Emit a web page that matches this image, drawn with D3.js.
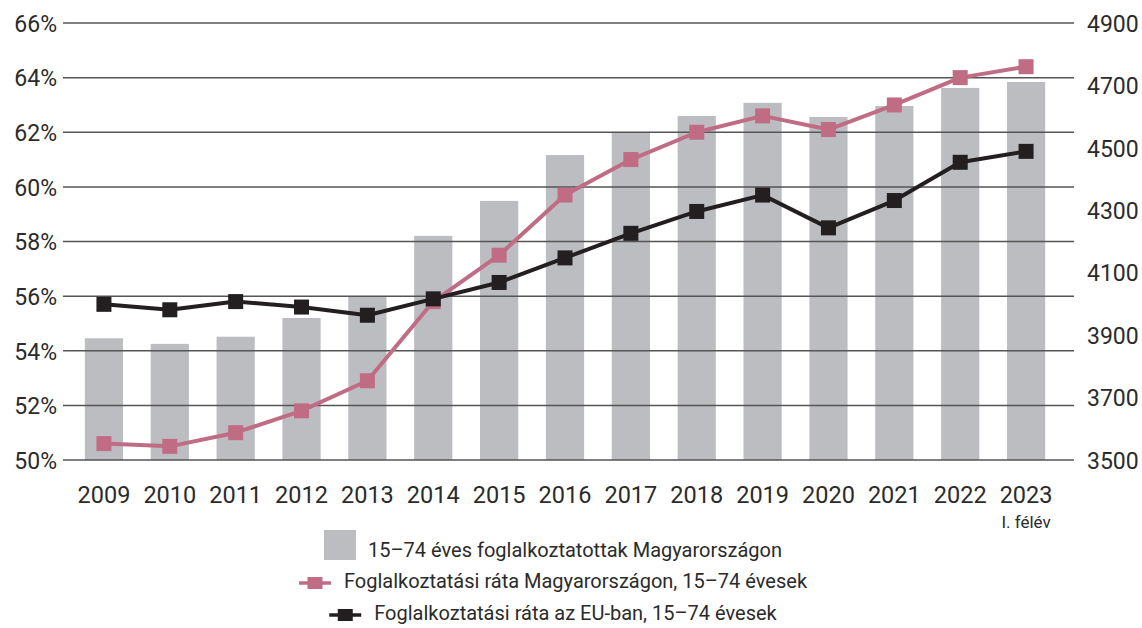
<!DOCTYPE html>
<html>
<head>
<meta charset="utf-8">
<script src="https://cdn.jsdelivr.net/npm/d3@7"></script>
<style>
  html, body { margin: 0; padding: 0; background: #fff; }
  svg { display: block; font-family: Roboto, "Open Sans", sans-serif; }
</style>
</head>
<body>
<svg id="chart" width="1142" height="628"></svg>
<script>
const years = ["2009","2010","2011","2012","2013","2014","2015","2016","2017","2018","2019","2020","2021","2022","2023"];
const employedHU = [3890, 3872, 3895, 3955, 4023, 4218, 4330, 4477, 4551, 4602, 4644, 4599, 4634, 4692, 4711];
const rateHU = [50.6, 50.5, 51.0, 51.8, 52.9, 55.8, 57.5, 59.7, 61.0, 62.0, 62.6, 62.1, 63.0, 64.0, 64.4];
const rateEU = [55.7, 55.5, 55.8, 55.6, 55.3, 55.9, 56.5, 57.4, 58.3, 59.1, 59.7, 58.5, 59.5, 60.9, 61.3];
const leftTicks = [50, 52, 54, 56, 58, 60, 62, 64, 66];
const rightTicks = [3500, 3700, 3900, 4100, 4300, 4500, 4700, 4900];
const lastYearNote = "I. félév";
const legendLabels = [
  "15–74 éves foglalkoztatottak Magyarországon",
  "Foglalkoztatási ráta Magyarországon, 15–74 évesek",
  "Foglalkoztatási ráta az EU-ban, 15–74 évesek"
];

const colBar = "#bcbdc1", colPink = "#c06c84", colBlack = "#231f20", colText = "#2b2b2b", colGrid = "#555";
const svg = d3.select("#chart");
const plotL = 63, plotR = 1074, plotT = 23, plotB = 460;

const x = d3.scaleBand().domain(years).range([71, 1059]).paddingInner(0.42).paddingOuter(0.21);
const yL = d3.scaleLinear().domain([50, 66]).range([plotB, plotT]);
const yR = d3.scaleLinear().domain([3500, 4900]).range([plotB, plotT]);
const cx = d => x(d) + x.bandwidth() / 2;

// bars
svg.append("g").selectAll("rect").data(years).join("rect")
  .attr("x", d => x(d)).attr("width", x.bandwidth())
  .attr("y", (d, i) => yR(employedHU[i]))
  .attr("height", (d, i) => plotB - yR(employedHU[i]))
  .attr("fill", colBar);

// gridlines (drawn over bars)
svg.append("g").selectAll("line").data(leftTicks).join("line")
  .attr("x1", plotL).attr("x2", plotR)
  .attr("y1", d => yL(d)).attr("y2", d => yL(d))
  .attr("stroke", colGrid).attr("stroke-width", 1.5);

// left axis
const axL = d3.axisLeft(yL).tickValues(leftTicks).tickSize(0).tickPadding(0).tickFormat(d => d + "%");
const gL = svg.append("g").attr("transform", `translate(57,0)`).call(axL);
gL.select(".domain").remove();
gL.selectAll("text").attr("font-size", 23).attr("fill", colText).attr("font-family", "Roboto").attr("font-weight", 400).attr("dy", "0.36em");

// right axis
const axR = d3.axisRight(yR).tickValues(rightTicks).tickSize(0).tickPadding(0).tickFormat(d3.format("d"));
const gR = svg.append("g").attr("transform", `translate(1087,0)`).call(axR);
gR.select(".domain").remove();
gR.selectAll("text").attr("font-size", 23).attr("fill", colText).attr("font-family", "Roboto").attr("font-weight", 400).attr("dy", "0.36em");

// bottom axis
const axB = d3.axisBottom(x).tickSize(0).tickPadding(0);
const gB = svg.append("g").attr("transform", `translate(0,485)`).call(axB);
gB.select(".domain").remove();
gB.selectAll("text").attr("font-size", 23.5).attr("fill", colText).attr("font-family", "Roboto").attr("font-weight", 400).attr("dy", "0.75em");
svg.append("text").attr("x", cx(years[years.length - 1])).attr("y", 528)
  .attr("text-anchor", "middle").attr("font-size", 17).attr("font-weight", 400).attr("fill", colText).text(lastYearNote);

// lines
function drawSeries(vals, col) {
  const line = d3.line().x((d, i) => cx(years[i])).y(d => yL(d));
  svg.append("path").datum(vals).attr("d", line).attr("fill", "none")
    .attr("stroke", col).attr("stroke-width", 4).attr("stroke-linejoin", "round");
  svg.append("g").selectAll("rect").data(vals).join("rect")
    .attr("x", (d, i) => cx(years[i]) - 7.5).attr("y", d => yL(d) - 7.5)
    .attr("width", 15).attr("height", 15).attr("fill", col);
}
drawSeries(rateHU, colPink);
drawSeries(rateEU, colBlack);

// legend
const legCx = 553;
const legBase = [557, 588, 620];
const legMid = [545, 583, 615];
function legendRow(i, kind, col) {
  const g = svg.append("g");
  const t = g.append("text").attr("y", legBase[i])
    .attr("font-size", 20).attr("font-weight", 400).attr("fill", colText).text(legendLabels[i]);
  const tw = t.node().getComputedTextLength();
  if (kind === "bar") {
    const w = 32 + 12 + tw, x0 = legCx - w / 2;
    g.append("rect").attr("x", x0).attr("y", legMid[i] - 15).attr("width", 32).attr("height", 30).attr("fill", col);
    t.attr("x", x0 + 44);
  } else {
    const w = 32 + 13 + tw, x0 = legCx - w / 2;
    g.append("line").attr("x1", x0).attr("x2", x0 + 32).attr("y1", legMid[i]).attr("y2", legMid[i])
      .attr("stroke", col).attr("stroke-width", 3.5);
    g.append("rect").attr("x", x0 + 16 - 7.5).attr("y", legMid[i] - 6).attr("width", 15).attr("height", 12).attr("fill", col);
    t.attr("x", x0 + 45);
  }
}
legendRow(0, "bar", colBar);
legendRow(1, "line", colPink);
legendRow(2, "line", colBlack);
</script>
</body>
</html>
